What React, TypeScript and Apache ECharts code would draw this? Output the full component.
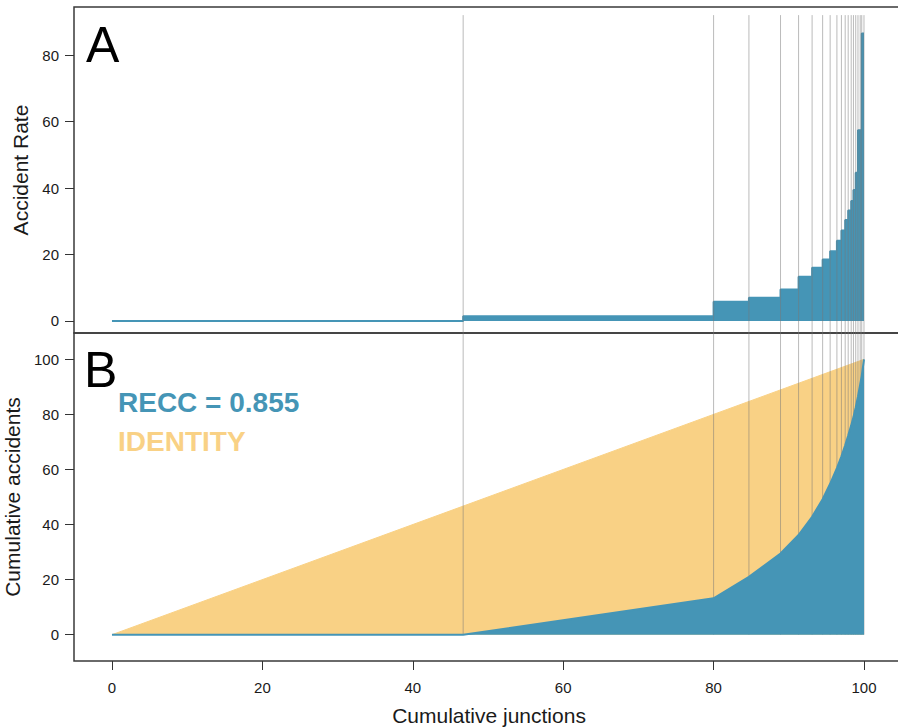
import React, { useEffect, useRef } from "react";
import * as echarts from "echarts";

// Step boundaries (cumulative junctions, %)
const junctionBreaks = [0, 46.7, 80.0, 84.7, 88.9, 91.3, 93.1, 94.5, 95.5, 96.4, 97.0, 97.5, 97.9, 98.3, 98.6, 98.9, 99.2, 99.5, 99.7, 100];
// Accident rate for each interval between breaks
const accidentRates = [0, 1.4, 5.8, 7.0, 9.5, 13.3, 16.0, 18.5, 21.0, 24.1, 27.2, 30.4, 33.2, 36.1, 39.4, 44.6, 57.4, 57.4, 86.5];
// Cumulative accidents (%) at each break
const cumulativeAccidents = [0, 0, 13.2, 21.0, 29.5, 36.2, 42.8, 49.2, 54.8, 60.5, 64.8, 68.8, 72.3, 76.0, 79.0, 82.5, 86.5, 91.0, 94.0, 100];
// Identity line
const identityX = [0, 100];
const identityY = [0, 100];
// Tick labels
const xTicks = [0, 20, 40, 60, 80, 100];
const rateTicks = [0, 20, 40, 60, 80];
const cumTicks = [0, 20, 40, 60, 80, 100];

const BLUE = "#4595b6";
const YELLOW = "#f9d185";
const FONT = "'Liberation Sans', Arial, Helvetica, sans-serif";
const INK = "#1a1a1a";

export default function App() {
  const ref = useRef<HTMLDivElement>(null);
  useEffect(() => {
    if (!ref.current) return;
    const chart = echarts.init(ref.current, null, { renderer: "svg" });

    const stepData = junctionBreaks.map((x, i) => [x, accidentRates[Math.min(i, accidentRates.length - 1)]]);
    const cumData = junctionBreaks.map((x, i) => [x, cumulativeAccidents[i]]);
    const identData = identityX.map((x, i) => [x, identityY[i]]);
    const lineData = junctionBreaks.slice(1).map((x) => [x, 0]);

    const tickLabel = { fontFamily: FONT, fontSize: 15, color: INK };
    const nameStyle = { fontFamily: FONT, fontSize: 21, color: INK };

    const vLines = (yTop: number, yBot: number) => (params: any, api: any) => {
      const x = api.value(0);
      const top = api.coord([x, yTop]);
      const bot = api.coord([x, yBot]);
      return {
        type: "line",
        shape: { x1: top[0], y1: top[1], x2: bot[0], y2: bot[1] },
        style: { stroke: "rgba(120,120,120,0.5)", lineWidth: 1 },
      };
    };

    const gridBase = { left: 74, width: 830, show: true, borderColor: "#3a3a3a", borderWidth: 1.5, backgroundColor: "transparent", outerBoundsMode: "none", containLabel: false };

    const option: any = {
      animation: false,
      backgroundColor: "#ffffff",
      grid: [
        { ...gridBase, top: 7, height: 326 },
        { ...gridBase, top: 333, height: 328 },
      ],
      xAxis: [
        {
          gridIndex: 0, type: "value", min: -5.05, max: 105.32, position: "bottom",
          axisLine: { show: false, onZero: false }, axisTick: { show: false }, axisLabel: { show: false }, splitLine: { show: false },
        },
        {
          gridIndex: 1, type: "value", min: -5.05, max: 105.32, position: "bottom",
          name: "Cumulative junctions", nameLocation: "middle", nameGap: 44, nameTextStyle: nameStyle,
          axisLine: { show: false, onZero: false },
          axisTick: { show: true, inside: false, length: 9, customValues: xTicks, lineStyle: { color: "#333", width: 1 } },
          axisLabel: { show: true, margin: 19, customValues: xTicks, ...tickLabel },
          splitLine: { show: false },
        },
      ],
      yAxis: [
        {
          gridIndex: 0, type: "value", min: -3.61, max: 94.44, position: "left",
          name: "Accident Rate", nameLocation: "middle", nameGap: 38, nameTextStyle: nameStyle,
          axisLine: { show: false, onZero: false },
          axisTick: { show: true, inside: false, length: 9, customValues: rateTicks, lineStyle: { color: "#333", width: 1 } },
          axisLabel: { show: true, margin: 15, customValues: rateTicks, ...tickLabel },
          splitLine: { show: false },
        },
        {
          gridIndex: 1, type: "value", min: -9.55, max: 109.55, position: "left",
          name: "Cumulative accidents", nameLocation: "middle", nameGap: 38, nameTextStyle: nameStyle,
          axisLine: { show: false, onZero: false },
          axisTick: { show: true, inside: false, length: 9, customValues: cumTicks, lineStyle: { color: "#333", width: 1 } },
          axisLabel: { show: true, margin: 15, customValues: cumTicks, ...tickLabel },
          splitLine: { show: false },
        },
      ],
      series: [
        {
          name: "rate", type: "line", xAxisIndex: 0, yAxisIndex: 0, step: "end",
          data: stepData, showSymbol: false, z: 2,
          lineStyle: { color: BLUE, width: 2 },
          areaStyle: { color: BLUE, opacity: 1 },
        },
        {
          name: "rateLines", type: "custom", xAxisIndex: 0, yAxisIndex: 0, z: 3,
          data: lineData, encode: { x: 0, y: 1 },
          renderItem: vLines(92.0, -3.61),
        },
        {
          name: "identity", type: "line", xAxisIndex: 1, yAxisIndex: 1,
          data: identData, showSymbol: false, z: 1,
          lineStyle: { color: YELLOW, width: 1 },
          areaStyle: { color: YELLOW, opacity: 1 },
        },
        {
          name: "cumLines", type: "custom", xAxisIndex: 1, yAxisIndex: 1, z: 2,
          data: lineData, encode: { x: 0, y: 1 },
          renderItem: vLines(109.55, 0),
        },
        {
          name: "cumulative", type: "line", xAxisIndex: 1, yAxisIndex: 1,
          data: cumData, showSymbol: false, z: 3,
          lineStyle: { color: BLUE, width: 2 },
          areaStyle: { color: BLUE, opacity: 1 },
        },
      ],
      graphic: [
        { type: "text", left: 86, top: 20, z: 10, style: { text: "A", fontFamily: FONT, fontSize: 50, fill: "#000" } },
        { type: "text", left: 84, top: 345, z: 10, style: { text: "B", fontFamily: FONT, fontSize: 50, fill: "#000" } },
        { type: "text", left: 118, top: 388, z: 10, style: { text: "RECC = 0.855", fontFamily: FONT, fontSize: 28, fontWeight: "bold", fill: BLUE } },
        { type: "text", left: 118, top: 427, z: 10, style: { text: "IDENTITY", fontFamily: FONT, fontSize: 28, fontWeight: "bold", fill: YELLOW } },
      ],
    };
    chart.setOption(option);
    return () => chart.dispose();
  }, []);
  return <div ref={ref} style={{ position: "fixed", left: 0, top: 0, width: 898, height: 728 }} />;
}
